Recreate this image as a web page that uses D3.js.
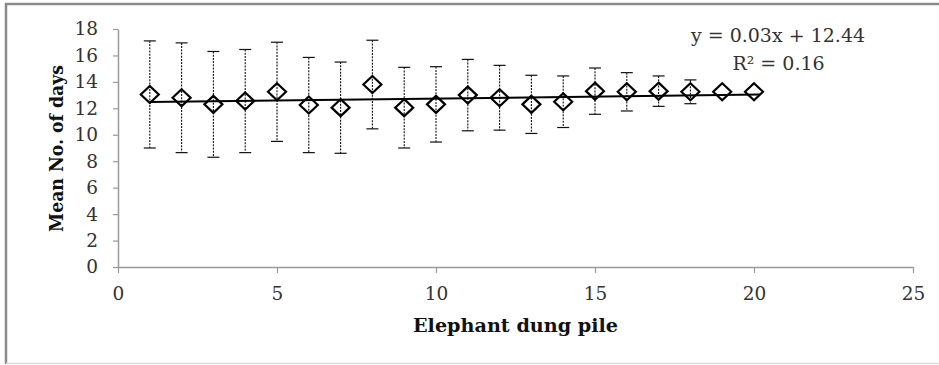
<!DOCTYPE html>
<html>
<head>
<meta charset="utf-8">
<script src="https://cdn.jsdelivr.net/npm/d3@7"></script>
<style>
  body { margin: 0; background: #fff; }
</style>
</head>
<body>
<div id="chart"></div>
<script>
// dung pile number on x, mean days on y, error = +/- sd
const piles = [1, 2, 3, 4, 5, 6, 7, 8, 9, 10, 11, 12, 13, 14, 15, 16, 17, 18, 19, 20];
const meanDays = [13.05, 12.8, 12.3, 12.55, 13.25, 12.25, 12.05, 13.8, 12.05, 12.3,
                  13.0, 12.8, 12.3, 12.5, 13.3, 13.25, 13.3, 13.25, 13.25, 13.25];
const sdDays = [4.05, 4.15, 4.0, 3.9, 3.75, 3.6, 3.45, 3.35, 3.05, 2.85,
                2.7, 2.45, 2.2, 1.95, 1.75, 1.45, 1.15, 0.9, 0, 0];
const xTicks = [0, 5, 10, 15, 20, 25];
const yTicks = [0, 2, 4, 6, 8, 10, 12, 14, 16, 18];
// trendline from the label
const slope = 0.03;
const intercept = 12.44;
const eqLabel = "y = 0.03x + 12.44";
const r2Label = "R\u00b2 = 0.16";

const width = 939;
const height = 365;
const serif = "DejaVu Serif, Liberation Serif, serif";

const svg = d3.select("#chart").append("svg")
  .attr("width", width)
  .attr("height", height)
  .attr("font-family", serif);

// outer frame
svg.append("path")
  .attr("d", "M6,364 L6,4 L939,4")
  .attr("fill", "none")
  .attr("stroke", "#8a8a8a")
  .attr("stroke-width", 2.5);
svg.append("line")
  .attr("x1", 6).attr("x2", 939).attr("y1", 363.5).attr("y2", 363.5)
  .attr("stroke", "#dcdcdc").attr("stroke-width", 1.5);

const x = d3.scaleLinear().domain([0, 25]).range([118, 913]);
const y = d3.scaleLinear().domain([0, 18]).range([267, 29]);

const axisColor = "#9a9a9a";

const xAxis = svg.append("g")
  .attr("transform", `translate(0,${y(0)})`)
  .call(d3.axisBottom(x).tickValues(xTicks).tickSize(6).tickPadding(14).tickSizeOuter(0));

const yAxis = svg.append("g")
  .attr("transform", `translate(${x(0)},0)`)
  .call(d3.axisLeft(y).tickValues(yTicks).tickSize(5).tickPadding(15).tickSizeOuter(0));

[xAxis, yAxis].forEach(g => {
  g.attr("font-family", serif).attr("font-size", 18.5);
  g.select(".domain").attr("stroke", axisColor).attr("stroke-width", 1.5);
  g.selectAll(".tick line").attr("stroke", axisColor).attr("stroke-width", 1.2);
  g.selectAll(".tick text").attr("fill", "#333");
});

// axis titles
svg.append("text")
  .attr("x", 515.5).attr("y", 331.5)
  .attr("text-anchor", "middle")
  .attr("font-size", 19).attr("font-weight", "bold")
  .attr("textLength", 205).attr("lengthAdjust", "spacingAndGlyphs")
  .attr("fill", "#111")
  .text("Elephant dung pile");

svg.append("text")
  .attr("transform", "translate(63,148.5) rotate(-90)")
  .attr("text-anchor", "middle")
  .attr("font-size", 19).attr("font-weight", "bold")
  .attr("textLength", 167).attr("lengthAdjust", "spacingAndGlyphs")
  .attr("fill", "#111")
  .text("Mean No. of days");

const data = piles.map((p, i) => ({p, m: meanDays[i], sd: sdDays[i]}));

// error bars
const err = svg.append("g").attr("stroke", "#111");
const withErr = data.filter(d => d.sd > 0);
err.selectAll("line.v")
  .data(withErr).enter().append("line")
  .attr("class", "v")
  .attr("x1", d => x(d.p)).attr("x2", d => x(d.p))
  .attr("y1", d => y(d.m + d.sd)).attr("y2", d => y(d.m - d.sd))
  .attr("stroke-width", 1.1)
  .attr("stroke-dasharray", "2,1.2");
["top", "bot"].forEach(k => {
  err.selectAll("line.cap-" + k)
    .data(withErr).enter().append("line")
    .attr("x1", d => x(d.p) - 6).attr("x2", d => x(d.p) + 6)
    .attr("y1", d => y(k === "top" ? d.m + d.sd : d.m - d.sd))
    .attr("y2", d => y(k === "top" ? d.m + d.sd : d.m - d.sd))
    .attr("stroke-width", 1.2);
});

// trend line
svg.append("line")
  .attr("x1", x(piles[0])).attr("y1", y(intercept + slope * piles[0]))
  .attr("x2", x(piles[piles.length - 1]) + 6)
  .attr("y2", y(intercept + slope * (piles[piles.length - 1] + 6 / (x(1) - x(0)))))
  .attr("stroke", "#000").attr("stroke-width", 2);

// diamond markers
svg.append("g").selectAll("path")
  .data(data).enter().append("path")
  .attr("transform", d => `translate(${x(d.p)},${y(d.m)})`)
  .attr("d", "M0,-8.5 L9,0 L0,8.5 L-9,0 Z")
  .attr("fill", "none")
  .attr("stroke", "#000")
  .attr("stroke-width", 2.2);

// equation
svg.append("text")
  .attr("x", 778).attr("y", 42)
  .attr("text-anchor", "middle")
  .attr("font-size", 19).attr("fill", "#333")
  .text(eqLabel);
svg.append("text")
  .attr("x", 778.5).attr("y", 70)
  .attr("text-anchor", "middle")
  .attr("font-size", 19).attr("fill", "#333")
  .text(r2Label);
</script>
</body>
</html>
